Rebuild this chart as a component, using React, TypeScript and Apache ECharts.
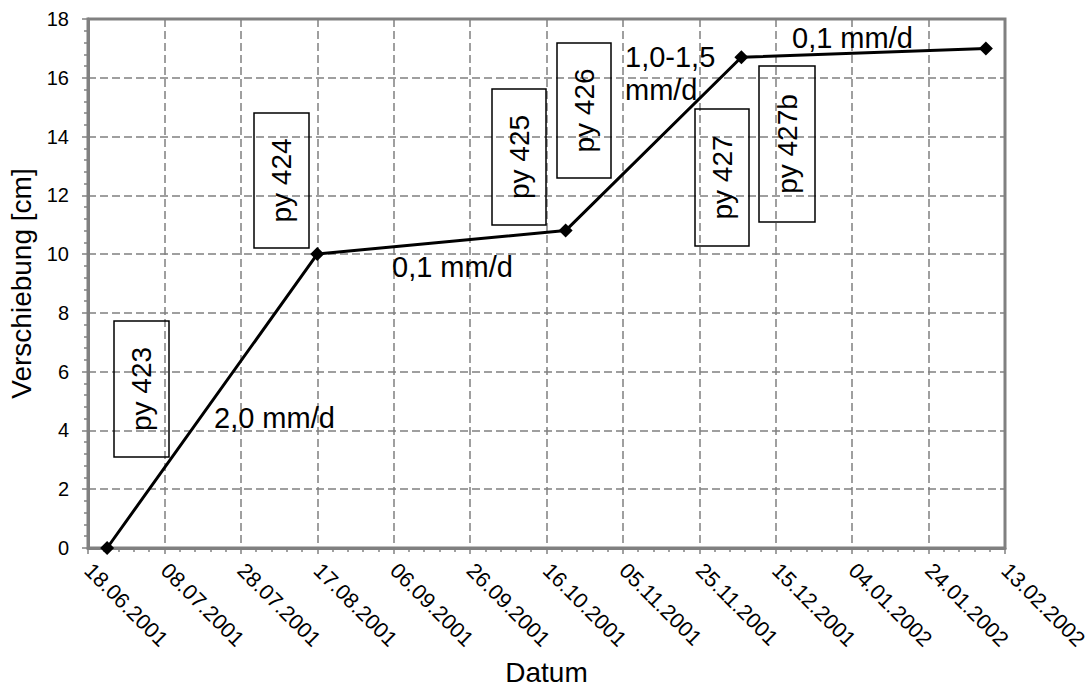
import React, { useEffect, useRef } from "react";
import * as echarts from "echarts";

// Measurement dates and cumulative displacement in cm
const startDate = "18.06.2001";
const measureDates = ["23.06.2001", "17.08.2001", "21.10.2001", "06.12.2001", "08.02.2002"];
const displacementCm = [0, 10, 10.8, 16.7, 17.0];

// Axis ranges
const xSpanDays = 240;
const xStepDays = 20;
const yMin = 0;
const yMax = 18;
const yStep = 2;

// Inclinometer labels and rate labels
const boreholeLabels = ["py 423", "py 424", "py 425", "py 426", "py 427", "py 427b"];
const rateLabels = ["2,0 mm/d", "0,1 mm/d", "1,0-1,5\nmm/d", "0,1 mm/d"];

const FONT = '"Liberation Sans", Arial, sans-serif';
const DAY_MS = 86400000;

function parseDate(s: string): number {
  const [d, m, y] = s.split(".").map(Number);
  return Date.UTC(y, m - 1, d);
}

function dayOffset(s: string): number {
  return Math.round((parseDate(s) - parseDate(startDate)) / DAY_MS);
}

function formatDay(offset: number): string {
  const t = new Date(parseDate(startDate) + offset * DAY_MS);
  const dd = String(t.getUTCDate()).padStart(2, "0");
  const mm = String(t.getUTCMonth() + 1).padStart(2, "0");
  return `${dd}.${mm}.${t.getUTCFullYear()}`;
}

// Box frames [left, top, right, bottom] in px
const boxFrames = [
  [114, 321, 169, 457],
  [254, 113, 309, 248],
  [492, 89, 546, 225],
  [557, 43, 611, 178],
  [695, 109, 749, 246],
  [759, 66, 815, 222],
];
// Rate label anchors [left, middle]
const rateAnchors = [
  [214, 418],
  [392, 267],
  [625, 73],
  [792, 38],
];

export default function App() {
  const ref = useRef<HTMLDivElement>(null);

  useEffect(() => {
    if (!ref.current) return;
    const chart = echarts.init(ref.current, null, { renderer: "svg" });

    const seriesData = measureDates.map((d, i) => [dayOffset(d), displacementCm[i]]);

    const graphics: any[] = [];
    boxFrames.forEach(([l, t, r, b], i) => {
      graphics.push({
        type: "rect",
        shape: { x: l, y: t, width: r - l, height: b - t },
        style: { fill: "none", stroke: "#000", lineWidth: 1.5 },
        z: 10,
      });
      graphics.push({
        type: "text",
        x: (l + r) / 2,
        y: (t + b) / 2,
        rotation: Math.PI / 2,
        style: {
          text: boreholeLabels[i],
          fontSize: 28,
          fontFamily: FONT,
          fill: "#000",
          align: "center",
          verticalAlign: "middle",
        },
        z: 10,
      });
    });
    rateAnchors.forEach(([x, y], i) => {
      graphics.push({
        type: "text",
        x,
        y,
        style: {
          text: rateLabels[i],
          fontSize: 29,
          fontFamily: FONT,
          lineHeight: 33,
          fill: "#000",
          align: "left",
          verticalAlign: "middle",
        },
        z: 10,
      });
    });

    const axisGray = "#808080";

    chart.setOption({
      animation: false,
      backgroundColor: "#fff",
      textStyle: { fontFamily: FONT },
      grid: {
        left: 88,
        top: 19,
        right: 84,
        bottom: 140,
        containLabel: false,
        outerBoundsMode: "none",
        show: true,
        borderColor: axisGray,
        borderWidth: 3,
        backgroundColor: "transparent",
      },
      xAxis: {
        type: "value",
        min: 0,
        max: xSpanDays,
        interval: xStepDays,
        name: "Datum",
        nameLocation: "middle",
        nameGap: 110,
        nameTextStyle: { fontSize: 28, color: "#000", fontFamily: FONT },
        axisLine: { show: true, lineStyle: { color: axisGray, width: 3 } },
        axisTick: { show: true, length: 6, lineStyle: { color: axisGray, width: 1.5 } },
        minorTick: { show: true, splitNumber: 5, length: 4, lineStyle: { color: axisGray, width: 1.5 } },
        splitLine: { show: true, lineStyle: { color: axisGray, width: 1.5, type: [8, 4] } },
        axisLabel: {
          rotate: -45,
          margin: 19,
          fontSize: 21.5,
          color: "#000",
          fontFamily: FONT,
          hideOverlap: false,
          formatter: (v: number) => formatDay(v),
        },
      },
      yAxis: {
        type: "value",
        min: yMin,
        max: yMax,
        interval: yStep,
        name: "Verschiebung [cm]",
        nameLocation: "middle",
        nameGap: 50,
        nameTextStyle: { fontSize: 28, color: "#000", fontFamily: FONT },
        axisLine: { show: true, lineStyle: { color: axisGray, width: 3 } },
        axisTick: { show: true, length: 6, lineStyle: { color: axisGray, width: 1.5 } },
        minorTick: { show: true, splitNumber: 5, length: 4, lineStyle: { color: axisGray, width: 1.5 } },
        splitLine: { show: true, lineStyle: { color: axisGray, width: 1.5, type: [8, 4] } },
        axisLabel: { margin: 19, fontSize: 20, color: "#000", fontFamily: FONT },
      },
      series: [
        {
          type: "line",
          data: seriesData,
          symbol: "diamond",
          symbolSize: 14,
          lineStyle: { color: "#000", width: 3 },
          itemStyle: { color: "#000" },
          z: 5,
        },
      ],
      graphic: graphics,
    });

    return () => chart.dispose();
  }, []);

  return (
    <div
      ref={ref}
      style={{ position: "fixed", left: 0, top: 0, width: 1089, height: 688, background: "#fff" }}
    />
  );
}
